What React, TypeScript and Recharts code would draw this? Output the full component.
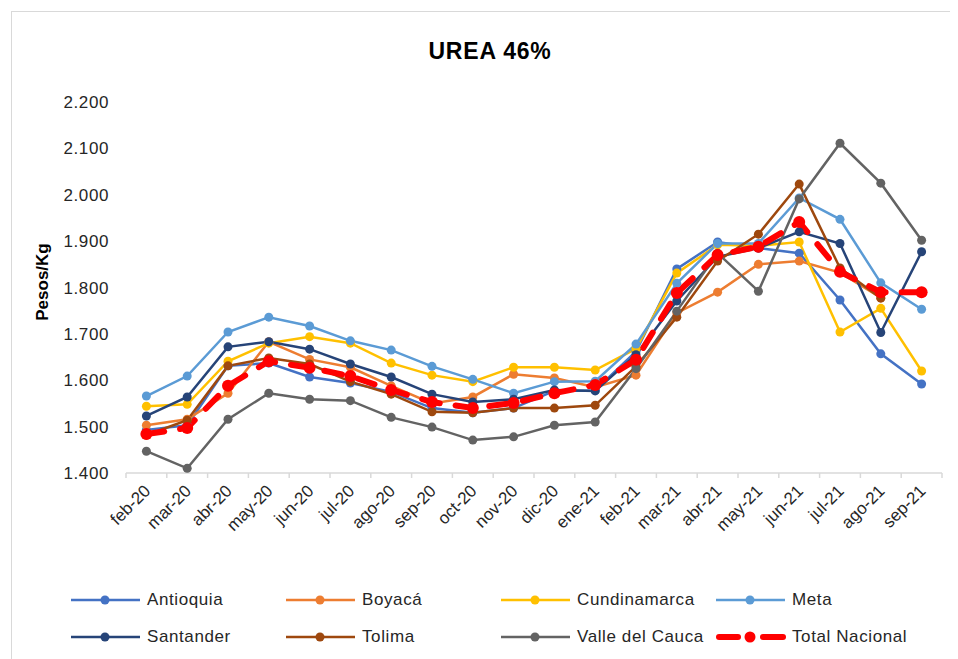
import React from 'react';
import { LineChart, Line, XAxis, YAxis } from 'recharts';

const months = [
  'feb-20', 'mar-20', 'abr-20', 'may-20', 'jun-20', 'jul-20', 'ago-20', 'sep-20', 'oct-20', 'nov-20',
  'dic-20', 'ene-21', 'feb-21', 'mar-21', 'abr-21', 'may-21', 'jun-21', 'jul-21', 'ago-21', 'sep-21',
];

const antioquia = [1493, 1503, 1631, 1637, 1607, 1594, 1575, 1540, 1530, 1540, 1577, 1578, 1662, 1840, 1898, 1885, 1874, 1773, 1657, 1592];
const boyaca = [1503, 1516, 1572, 1683, 1645, 1628, 1588, 1550, 1564, 1613, 1605, 1585, 1611, 1745, 1790, 1850, 1857, 1832, 1778, null];
const cundinamarca = [1544, 1548, 1641, 1680, 1694, 1680, 1637, 1611, 1597, 1628, 1628, 1622, 1668, 1831, 1892, 1890, 1898, 1704, 1755, 1620];
const meta = [1566, 1609, 1704, 1736, 1717, 1685, 1665, 1630, 1602, 1572, 1597, 1598, 1678, 1809, 1895, 1895, 1993, 1947, 1810, 1753];
const santander = [1523, 1564, 1672, 1683, 1667, 1635, 1607, 1570, 1553, 1559, 1579, 1577, 1655, 1771, 1866, 1885, 1920, 1895, 1703, 1877];
const tolima = [1482, 1514, 1631, 1648, 1635, 1597, 1570, 1532, 1530, 1540, 1540, 1546, 1630, 1736, 1857, 1915, 2023, 1842, 1777, null];
const valle = [1447, 1410, 1516, 1572, 1559, 1556, 1520, 1499, 1471, 1478, 1503, 1510, 1625, 1749, 1874, 1792, 1991, 2111, 2025, 1902];
const total = [1484, 1497, 1588, 1641, 1627, 1609, 1579, 1553, 1540, 1551, 1572, 1590, 1644, 1788, 1870, 1888, 1941, 1834, 1790, 1790];

const yTicks = [1400, 1500, 1600, 1700, 1800, 1900, 2000, 2100, 2200];

const series = [
  { key: 'Antioquia', values: antioquia, color: '#4472C4' },
  { key: 'Boyacá', values: boyaca, color: '#ED7D31' },
  { key: 'Cundinamarca', values: cundinamarca, color: '#FFC000' },
  { key: 'Meta', values: meta, color: '#5B9BD5' },
  { key: 'Santander', values: santander, color: '#264478' },
  { key: 'Tolima', values: tolima, color: '#9E480E' },
  { key: 'Valle del Cauca', values: valle, color: '#636363' },
  { key: 'Total Nacional', values: total, color: '#FF0000', dashed: true },
];

// legend goes row by row, four per row like the Excel one
const legendOrder = [
  'Antioquia', 'Boyacá', 'Cundinamarca', 'Meta',
  'Santander', 'Tolima', 'Valle del Cauca', 'Total Nacional',
];

const data = months.map((m, i) => {
  const row: Record<string, string | number | null> = { month: m };
  series.forEach((s) => { row[s.key] = s.values[i]; });
  return row;
});

const FONT = '"Liberation Sans", Arial, sans-serif';
const W = 950;
const H = 651;
const X_AXIS_H = 60;
const margin = { top: 94, right: 16, bottom: 186 - X_AXIS_H, left: 58 };
const PLOT_W = W - margin.left - margin.right - 60;
const HALF = PLOT_W / months.length / 2;
const AXIS_GREY = '#d9d9d9';

const fmt = (v: number) => {
  const s = String(v);
  return s.length > 3 ? s.slice(0, s.length - 3) + '.' + s.slice(-3) : s;
};

const XTick = (props: any) => {
  const { x, y, payload, index } = props;
  return (
    <g>
      <line x1={x - HALF} x2={x - HALF} y1={y} y2={y + 5} stroke={AXIS_GREY} strokeWidth={1.5} />
      {index === months.length - 1 && (
        <line x1={x + HALF} x2={x + HALF} y1={y} y2={y + 5} stroke={AXIS_GREY} strokeWidth={1.5} />
      )}
      <text
        transform={`translate(${x + 5},${y + 19}) rotate(-45)`}
        textAnchor="end"
        fontFamily={FONT}
        fontSize={17}
        fill="#262626"
      >
        {payload.value}
      </text>
    </g>
  );
};

const LegendIcon = ({ color, dashed }: { color: string; dashed?: boolean }) => (
  <svg width={70} height={14} style={{ display: 'block' }}>
    {dashed ? (
      <>
        <line x1={3} x2={22} y1={7} y2={7} stroke={color} strokeWidth={6} strokeLinecap="round" />
        <line x1={47} x2={67} y1={7} y2={7} stroke={color} strokeWidth={6} strokeLinecap="round" />
        <circle cx={34} cy={7} r={5.5} fill={color} />
      </>
    ) : (
      <>
        <line x1={0} x2={69} y1={7} y2={7} stroke={color} strokeWidth={2.5} />
        <circle cx={34} cy={7} r={4.5} fill={color} />
      </>
    )}
  </svg>
);

export default function App() {
  return (
    <div style={{ position: 'relative', width: W, height: H, overflow: 'hidden', fontFamily: FONT }}>
      <div
        style={{
          position: 'absolute', left: 3, top: 3, width: 1000, height: 1000,
          border: `1px solid ${AXIS_GREY}`,
        }}
      />
      <div
        style={{
          position: 'absolute', left: 0, width: 964, top: 30, textAlign: 'center',
          fontSize: 23, fontWeight: 'bold', letterSpacing: 0.8, color: '#000',
        }}
      >
        UREA 46%
      </div>
      <div
        style={{
          position: 'absolute', left: 35, top: 274, transform: 'translate(-50%, -50%) rotate(-90deg)',
          fontSize: 17, fontWeight: 'bold', whiteSpace: 'nowrap', color: '#000',
        }}
      >
        Pesos/Kg
      </div>
      <div style={{ position: 'absolute', left: 0, top: 0 }}>
        <LineChart width={W} height={H} data={data} margin={margin}>
          <XAxis
            dataKey="month"
            padding={{ left: HALF, right: HALF }}
            stroke={AXIS_GREY}
            axisLine={{ stroke: AXIS_GREY, strokeWidth: 1.5 }}
            tickLine={false}
            tickSize={0}
            tickMargin={0}
            interval={0}
            tick={<XTick />}
            height={X_AXIS_H}
          />
          <YAxis
            domain={[1400, 2200]}
            ticks={yTicks}
            axisLine={false}
            tickLine={false}
            tickSize={0}
            tickMargin={17}
            width={60}
            interval={0}
            tickFormatter={fmt}
            tick={{ fontFamily: FONT, fontSize: 17, fill: '#262626', letterSpacing: 0.6 }}
          />
          {series.map((s) => (
            <Line
              key={s.key}
              dataKey={s.key}
              type="linear"
              stroke={s.color}
              strokeWidth={s.dashed ? 6 : 2.5}
              strokeDasharray={s.dashed ? '18 16' : undefined}
              strokeLinecap={s.dashed ? 'round' : 'butt'}
              dot={{ r: s.dashed ? 6 : 4.5, fill: s.color, stroke: 'none' }}
              activeDot={false}
              isAnimationActive={false}
            />
          ))}
        </LineChart>
      </div>
      {legendOrder.map((name, i) => {
        const s = series.find((t) => t.key === name)!;
        const col = i % 4;
        const row = Math.floor(i / 4);
        return (
          <div
            key={name}
            style={{
              position: 'absolute', left: 63 + col * 215, top: 582 + row * 37,
              display: 'flex', alignItems: 'center', height: 20,
            }}
          >
            <LegendIcon color={s.color} dashed={s.dashed} />
            <span style={{ marginLeft: 6, fontSize: 17, letterSpacing: 0.6, color: '#262626' }}>{name}</span>
          </div>
        );
      })}
    </div>
  );
}
